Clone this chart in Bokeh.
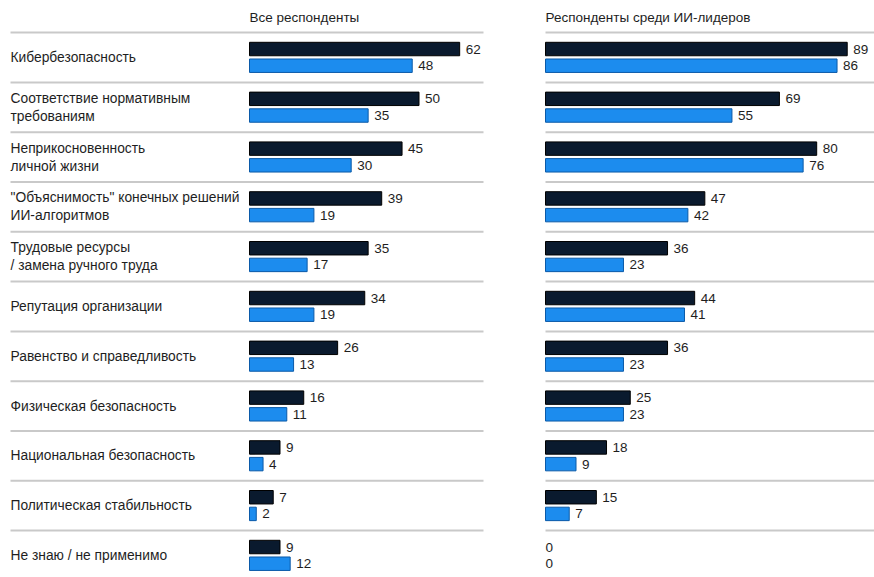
from bokeh.plotting import figure
from bokeh.models import ColumnDataSource, Range1d
from bokeh.layouts import row
from bokeh.core.properties import value
from bokeh.embed import file_html
from bokeh.resources import INLINE

categories = [
    "Кибербезопасность",
    "Соответствие нормативным\nтребованиям",
    "Неприкосновенность\nличной жизни",
    "\"Объяснимость\" конечных решений\nИИ-алгоритмов",
    "Трудовые ресурсы\n/ замена ручного труда",
    "Репутация организации",
    "Равенство и справедливость",
    "Физическая безопасность",
    "Национальная безопасность",
    "Политическая стабильность",
    "Не знаю / не применимо",
]
all_dark = [62, 50, 45, 39, 35, 34, 26, 16, 9, 7, 9]
all_blue = [48, 35, 30, 19, 17, 19, 13, 11, 4, 2, 12]
lead_dark = [89, 69, 80, 47, 36, 44, 36, 25, 18, 15, 0]
lead_blue = [86, 55, 76, 42, 23, 41, 23, 23, 9, 7, 0]
titles = ["Все респонденты", "Респонденты среди ИИ-лидеров"]

FONT = value("Liberation Sans")
TXT = "#1e1e1e"
DARK_FILL, DARK_LINE = "#0a1a2e", "#000000"
BLUE_FILL, BLUE_LINE = "#1c8cee", "#0b5aa8"
SEP = "#c9c9c9"

PX = 3.39          # pixels per percentage point
PITCH = 49.8       # pixels per row
H = 577
rows_idx = list(range(len(categories)))
y_top = (0 - 57) / PITCH
y_bot = (H - 57) / PITCH


def make_fig(width, zero_px, dark, blue, title, sep_left_px, sep_right_px, with_labels):
    x0 = -zero_px / PX
    x1 = (width - zero_px) / PX
    p = figure(width=width, height=H, x_range=Range1d(x0, x1),
               y_range=Range1d(y_bot, y_top), x_axis_type=None, y_axis_type=None,
               output_backend="svg", toolbar_location=None, min_border=0,
               outline_line_color=None, border_fill_color=None,
               background_fill_color=None)
    seps = [i - 0.5 for i in rows_idx]
    p.segment(x0=[(sep_left_px - zero_px) / PX] * len(seps),
              x1=[(sep_right_px - zero_px) / PX] * len(seps),
              y0=seps, y1=seps, line_color=SEP, line_width=2)
    p.text(x=[0], y=[-0.80], text=[title], text_font=FONT, text_font_size="13.5px",
           text_color=TXT, text_baseline="middle", text_align="left")
    if with_labels:
        p.text(x=[(10 - zero_px) / PX] * len(categories), y=rows_idx, text=categories,
               text_font=FONT, text_font_size="13.8px", text_color=TXT,
               text_baseline="middle", text_align="left", text_line_height=1.2)
    for vals, dy, fill, line in ((dark, -0.17, DARK_FILL, DARK_LINE),
                                 (blue, 0.165, BLUE_FILL, BLUE_LINE)):
        ys = [i + dy for i in rows_idx]
        nz = [k for k, v in enumerate(vals) if v > 0]
        src = ColumnDataSource(dict(y=[ys[k] for k in nz], v=[vals[k] for k in nz]))
        p.hbar(y="y", left=0, right="v", height=0.27, source=src,
               fill_color=fill, line_color=line, line_width=1)
        lab = ColumnDataSource(dict(y=ys, v=vals, t=[str(v) for v in vals],
                                    off=[6 if v > 0 else 0 for v in vals]))
        p.text(x="v", y="y", text="t", x_offset="off", source=lab, text_font=FONT,
               text_font_size="13.5px", text_color=TXT, text_baseline="middle",
               text_align="left")
    return p


left = make_fig(538, 249, all_dark, all_blue, titles[0], 10, 483, True)
right = make_fig(336, 7, lead_dark, lead_blue, titles[1], 7, 336, False)
layout = row(left, right, spacing=0)

open("out.html", "w").write(file_html(layout, INLINE))
